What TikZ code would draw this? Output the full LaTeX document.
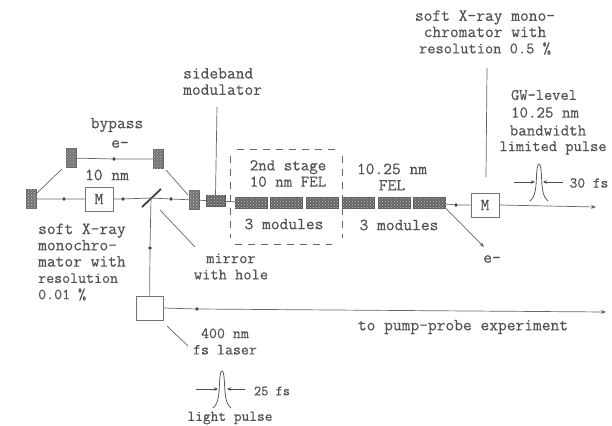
\documentclass[tikz,border=0pt]{standalone}
\usepackage{fontspec}
\setmainfont[FakeBold=0.4]{Latin Modern Mono}
\usetikzlibrary{arrows.meta,positioning,patterns}
\newcommand{\labelsize}[1]{\fontsize{#1}{16.3}\selectfont}

\begin{document}
\begin{tikzpicture}[
    x=1pt, y=-1pt,
    every node/.style={font=\labelsize{17}, text=black!68},
    beamline/.style={draw=black!60, line width=0.7pt},
    pointer/.style={draw=black!60, line width=0.7pt},
    beamdot/.style={circle, fill=black!75, inner sep=0pt, minimum size=3.6pt},
    magnet/.style={draw=black!60, fill=black!55, inner sep=0pt, minimum width=10pt, minimum height=19pt,
        postaction={pattern=crosshatch dots, pattern color=black!25}},
    module/.style={draw=black!65, fill=black!60, inner sep=0pt, minimum width=32pt, minimum height=11pt,
        postaction={pattern=crosshatch dots, pattern color=black!25}},
    optbox/.style={draw=black!55, fill=white, line width=0.8pt, inner sep=0pt, minimum width=28pt, minimum height=24pt},
    stagedash/.style={draw=black!60, dash pattern=on 7pt off 6pt, line width=0.7pt},
    label/.style={align=center, inner sep=0pt},
    widtharrow/.style={draw=black!70, line width=0.6pt, -{Stealth[length=4pt,width=3.5pt]}}
]
\useasboundingbox (0,0) rectangle (612,425);

% Bypass magnets
\node[magnet] (chicaneA) at (31,199) {};
\node[magnet] (chicaneB) at (71,158) {};
\node[magnet] (chicaneC) at (158,159) {};
\node[magnet] (chicaneD) at (194,200) {};

% Sideband modulator and undulator modules
\node[module, minimum width=19pt] (sideband) at (215.5,201) {};
\foreach \name/\x in {modA/251, modB/286.5, modC/322, modD/358.5, modE/394, modF/429.5} {
    \node[module] (\name) at (\x,202.5) {};
}

% Monochromators and laser
\node[optbox] (monoA) at (99,199) {M};
\node[optbox] (monoB) at (485,205) {M};
\node[optbox, minimum width=27pt] (laser) at (149.5,308) {};

% Mirror
\coordinate (mirrorA) at (142,207);
\coordinate (mirrorB) at (161,189);
\coordinate (mirrorC) at (151,198);
\draw[black!75, line width=1.8pt] (mirrorA) -- (mirrorB);

% Beam dots
\node[beamdot] (dotA) at (64,199) {};
\node[beamdot] (dotB) at (123,199) {};
\node[beamdot] (dotC) at (171,199) {};
\node[beamdot] (dotD) at (114,159) {};
\node[beamdot] (dotE) at (456,205) {};
\node[beamdot] (dotF) at (150,248) {};
\node[beamdot] (dotG) at (197,309) {};

% Beam line
\draw[beamline] (chicaneA) -- (dotA) -- (monoA) -- (dotB) -- (mirrorC) -- (dotC) -- (chicaneD);
\draw[beamline] (chicaneD) -- (sideband) -- (modA);
\draw[beamline] (chicaneB) -- (dotD) -- (chicaneC);
\draw[beamline] (modF) -- (dotE) -- (monoB);
\draw[beamline] (laser) -- (dotF) -- (mirrorC);

% Bends of the bypass
\coordinate (bendA) at (37,193);
\coordinate (bendB) at (62,169);
\coordinate (bendC) at (166,170);
\coordinate (bendD) at (188,195);
\draw[beamline] (bendA) -- (bendB);
\draw[beamline] (bendC) -- (bendD);

% Outgoing beams
\coordinate (xrayEnd) at (596,207);
\coordinate (pumpEnd) at (606,312);
\coordinate (dumpEnd) at (484,247);
\draw[beamline, -{Stealth[length=5pt,width=4pt]}] (monoB.east) -- (xrayEnd);
\draw[beamline, -{Stealth[length=5pt,width=4pt]}] (laser.east) -- (dotG) -- (pumpEnd);
\draw[beamline, -{Stealth[length=5pt,width=4pt]}] (modF.south east) -- (dumpEnd);

% Dashed box of the second stage
\draw[stagedash] (237,149) -- (336,149);
\draw[stagedash] (235,244) -- (332,244);
\draw[stagedash] (230,156) -- (230,238);
\draw[stagedash] (342,156) -- (342,238);

% Pointer lines
\coordinate (ptrSideband) at (217,107);
\coordinate (ptrMono) at (487,68);
\coordinate (ptrMonoEnd) at (486,177);
\coordinate (ptrMirror) at (160,210);
\coordinate (ptrMirrorEnd) at (195,247);
\coordinate (ptrLaser) at (167,326);
\coordinate (ptrLaserEnd) at (188,346);
\draw[pointer] (ptrSideband) -- (sideband.north);
\draw[pointer] (ptrMono) -- (ptrMonoEnd);
\draw[pointer] (ptrMirror) -- (ptrMirrorEnd);
\draw[pointer] (ptrLaser) -- (ptrLaserEnd);

% Pulses
\foreach \x/\y in {539/164, 222/371} {
    \draw[black!65, line width=0.8pt] (\x-9,\y+37) .. controls (\x-3,\y+32) and (\x-3,\y+22) .. (\x-2.5,\y+12)
        .. controls (\x-2,\y+2) and (\x-1,\y) .. (\x,\y)
        .. controls (\x+1,\y) and (\x+2,\y+2) .. (\x+2.5,\y+12)
        .. controls (\x+3,\y+22) and (\x+3,\y+32) .. (\x+9,\y+37);
}
\draw[widtharrow] (514,182) -- (535,182);
\draw[widtharrow] (563,182) -- (543,182);
\draw[widtharrow] (196,389) -- (218,389);
\draw[widtharrow] (245,389) -- (227,389);

% Labels
\node[label] (bypassText) at (117,125) {bypass};
\node[label] (eBypass) at (120,144) {e-};
\node[label] (tenText) at (107,175) {10 nm};
\node[label, align=left, anchor=west] (monoAText) at (38,262) {soft X-ray\\monochro-\\mator with\\\labelsize{15.5}resolution\\\labelsize{15.5}0.01 \%};
\node[label, align=left, anchor=west] (sidebandText) at (183,81.5) {sideband\\modulator};
\node[label, font=\labelsize{16.5}] (stageText) at (288,173.5) {2nd stage\\10 nm FEL};
\node[label] (stageMods) at (284,224) {3 modules};
\node[label] (felText) at (392,177) {10.25 nm\\FEL};
\node[label] (felMods) at (399,225) {3 modules};
\node[label] (monoBText) at (485,32.5) {soft X-ray mono-\\chromator with\\\labelsize{16}resolution 0.5 \%};
\node[label, font=\labelsize{16}] (gwText) at (544,95) {GW-level};
\node[label, font=\labelsize{16.5}] (gwNm) at (545,112.5) {10.25 nm};
\node[label, font=\labelsize{16.5}] (gwBand) at (548,130.5) {bandwidth};
\node[label, font=\labelsize{16}] (gwPulse) at (553,148) {limited pulse};
\node[label, font=\labelsize{15}] (thirtyText) at (589,183) {30 fs};
\node[label] (eDump) at (492,259) {e-};
\node[label, font=\labelsize{16}] (mirrorText) at (231,266.5) {mirror\\with hole};
\node[label] (pumpText) at (463,327) {to pump-probe experiment};
\node[label, font=\labelsize{15.5}] (laserText) at (225,341.5) {400 nm\\fs laser};
\node[label, font=\labelsize{14}] (pulseTime) at (272,391) {25 fs};
\node[label, font=\labelsize{15}] (pulseText) at (230,418) {light pulse};

\end{tikzpicture}
\end{document}
